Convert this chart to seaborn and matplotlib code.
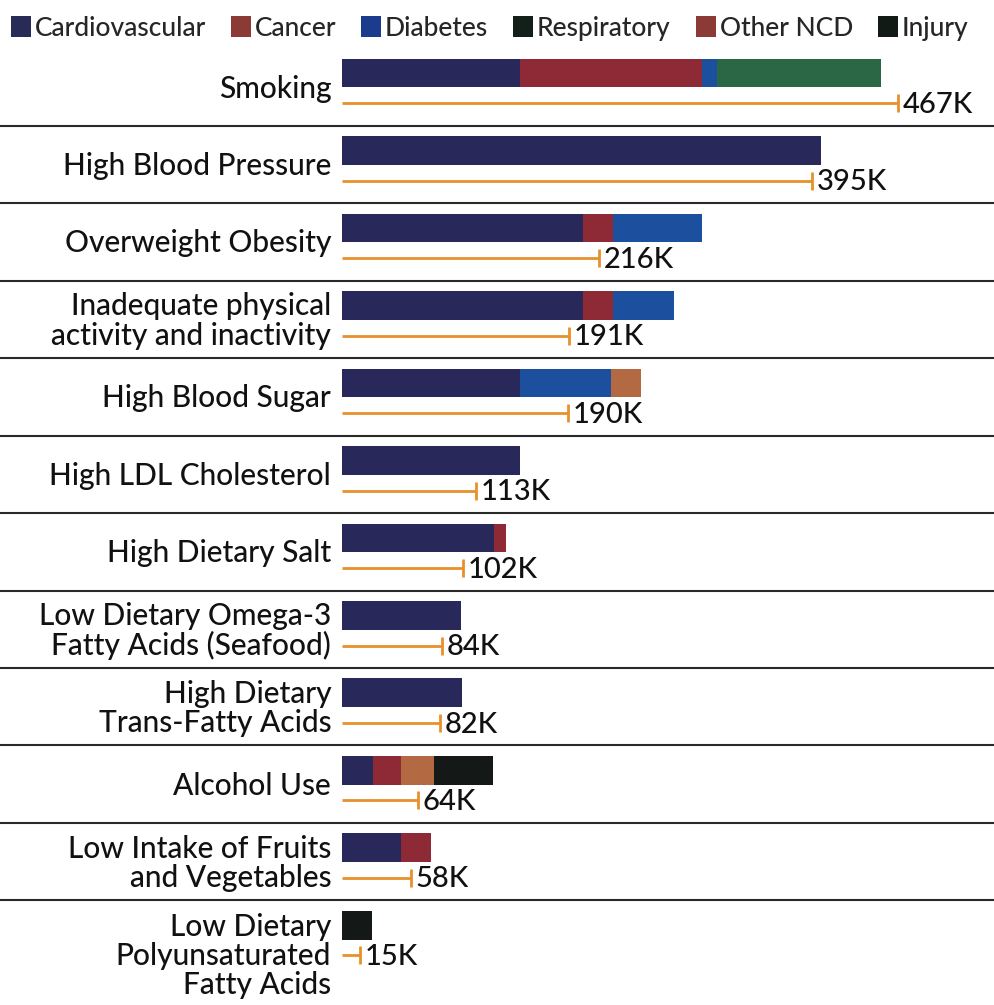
import numpy as np
import pandas as pd
import matplotlib.pyplot as plt
from matplotlib.patches import Patch
import seaborn as sns

sns.set_style('white')
plt.rcParams['font.family'] = ['Lato', 'DejaVu Sans']

risks = ['Smoking', 'High Blood Pressure', 'Overweight Obesity',
         'Inadequate physical\nactivity and inactivity', 'High Blood Sugar',
         'High LDL Cholesterol', 'High Dietary Salt',
         'Low Dietary Omega-3\nFatty Acids (Seafood)',
         'High Dietary\nTrans-Fatty Acids', 'Alcohol Use',
         'Low Intake of Fruits\nand Vegetables',
         'Low Dietary\nPolyunsaturated\nFatty Acids']

# deaths in thousands
cardiovascular = [150, 403, 203, 203, 150, 150, 128, 100, 101, 26, 50, 0]
cancer = [153, 0, 25, 25, 0, 0, 10, 0, 0, 24, 25, 0]
diabetes = [12, 0, 75, 51, 76, 0, 0, 0, 0, 0, 0, 0]
respiratory = [138, 0, 0, 0, 0, 0, 0, 0, 0, 0, 0, 0]
other_ncd = [0, 0, 0, 0, 25, 0, 0, 0, 0, 27, 0, 0]
injury = [0, 0, 0, 0, 0, 0, 0, 0, 0, 50, 0, 25]

# totals shown under each bar
totals = [467, 395, 216, 191, 190, 113, 102, 84, 82, 64, 58, 15]
total_labels = ['467K', '395K', '216K', '191K', '190K', '113K', '102K',
                '84K', '82K', '64K', '58K', '15K']

causes = ['Cardiovascular', 'Cancer', 'Diabetes', 'Respiratory', 'Other NCD', 'Injury']
bar_colors = ['#29285a', '#8e2a35', '#1c4f9e', '#2b6645', '#b36a42', '#141816']
legend_colors = ['#272b55', '#8b3a36', '#1b3c8c', '#122019', '#8b3a36', '#111a15']

df = pd.DataFrame({'risk': risks, 'Cardiovascular': cardiovascular, 'Cancer': cancer,
                   'Diabetes': diabetes, 'Respiratory': respiratory,
                   'Other NCD': other_ncd, 'Injury': injury})
cum = df[causes].cumsum(axis=1)

fig = plt.figure(figsize=(9.94, 10.05), dpi=100)
ax = fig.add_axes([0.344, 0.0, 0.656, 0.952])

# stacked bars: draw the running totals from the outermost layer inwards
for cause, col in reversed(list(zip(causes, bar_colors))):
    sns.barplot(x=cum[cause], y=df['risk'], orient='h', color=col,
                width=0.37, ax=ax, saturation=1, linewidth=0)

ypos = np.arange(len(risks))
line_y = ypos + 0.39
ax.hlines(line_y, 0, totals, color='#e8902c', lw=2)
ax.plot(totals, line_y, ls='none', marker='|', ms=13, mew=2, color='#e8902c')
for y, t, lab in zip(line_y, totals, total_labels):
    ax.text(t + 4, y + 0.02, lab, ha='left', va='center', fontsize=21,
            fontweight='medium', color='#111')

for y, lab in zip(ypos, risks):
    n = lab.count('\n') + 1
    ax.text(-9, y + max(0.2, (n - 1) * 0.2), lab, ha='right', va='center',
            fontsize=21.5, fontweight='medium', color='#111',
            linespacing=1.05, clip_on=False)

for y in ypos[:-1]:
    ax.axhline(y + 0.68, xmin=-0.53, xmax=1.0, color='#2a2a2a', lw=1.5, clip_on=False)

ax.set_xlim(0, 548)
ax.set_ylim(12.03, -0.32)
ax.set_xlabel('')
ax.set_ylabel('')
ax.set_xticks([])
ax.set_yticks([])
sns.despine(ax=ax, left=True, bottom=True)

handles = [Patch(facecolor=c, edgecolor='none') for c in legend_colors]
fig.legend(handles, causes, loc='upper left', bbox_to_anchor=(-0.005, 1.0), ncol=6,
           frameon=False, handlelength=0.75, handleheight=0.85,
           handletextpad=0.15, columnspacing=0.95, borderaxespad=0.2,
           prop={'size': 19, 'weight': 'medium'})

fig.savefig('out.png', dpi=100)
